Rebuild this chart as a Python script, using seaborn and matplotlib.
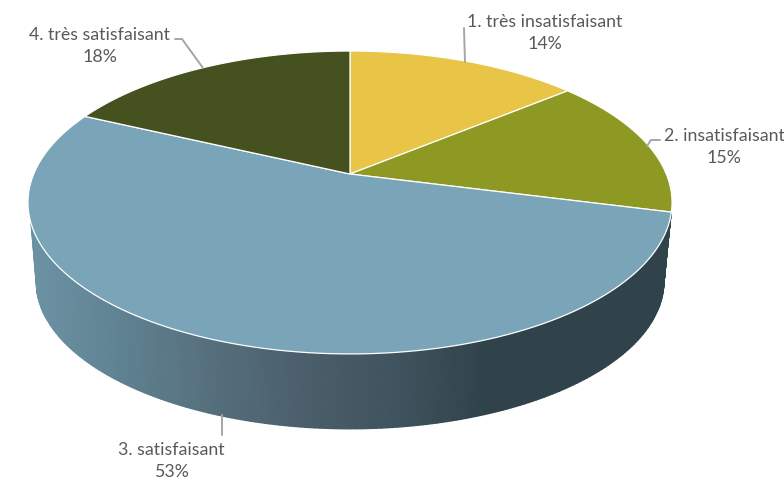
import numpy as np
import matplotlib
matplotlib.use("Agg")
import matplotlib.pyplot as plt
import seaborn as sns

categories = ["1. très insatisfaisant", "2. insatisfaisant", "3. satisfaisant", "4. très satisfaisant"]
shares = [14, 15, 53, 18]
slice_colors = ["#E8C547", "#8E9923", "#7AA4B7", "#465120"]
wall_stops = ["#6C93A5", "#5F8290", "#566F7D", "#4B5E6B", "#3F545E", "#30434B", "#30434B", "#30434B"]

# where the labels sit and how their leader lines run, in pixels
label_xy = [(545, 33), (724, 147), (171, 461), (100, 46)]
leaders = [
    [(465, 62), (464, 28)],
    [(647, 146), (651, 140), (660, 140)],
    [(222, 415), (222, 435)],
    [(203, 68), (182, 39), (175, 39)],
]

# perspective of the pie disc, fitted on the picture
APEX = (350, 174)
A, B, P = 316.3, 146.1, 0.188
BOTTOM_SCALE, BOTTOM_Y = 0.975, 253.5


def disc(theta, scale=1.0, cy=APEX[1]):
    """Angle clockwise from the top -> pixel position on the tilted disc."""
    u, v = np.sin(theta), np.cos(theta)
    den = 1 + P * v
    return APEX[0] + scale * A * u / den, cy - scale * B * v / den


sns.set_theme(style="white")
plt.rcParams["font.family"] = ["Lato", "DejaVu Sans"]

fig = plt.figure(figsize=(7.84, 4.79), dpi=100)
ax = fig.add_axes([0, 0, 1, 1])
ax.set_xlim(0, 784)
ax.set_ylim(479, 0)
ax.axis("off")

# side wall, shaded from left to right
theta_top = np.radians(np.linspace(251.6, 104.4, 200))
theta_low = np.pi + (theta_top - np.pi) * 1.05
xt, yt = disc(theta_top)
xb, yb = disc(theta_low, BOTTOM_SCALE, BOTTOM_Y)
X = np.vstack([xt, xb])
Y = np.vstack([yt, yb])
shade = sns.blend_palette(wall_stops, as_cmap=True)
ax.pcolormesh(X, Y, X, cmap=shade, shading="gouraud", vmin=30, vmax=672, zorder=1)

# top face
edges = np.radians(np.concatenate([[0], np.cumsum(shares)]) * 3.6)
for i, color in enumerate(slice_colors):
    th = np.linspace(edges[i], edges[i + 1], 120)
    x, y = disc(th)
    ax.fill(np.r_[APEX[0], x], np.r_[APEX[1], y], facecolor=color,
            edgecolor="#FFFFFF", linewidth=0.9, joinstyle="round", zorder=2)

for path in leaders:
    px, py = zip(*path)
    ax.plot(px, py, color="#A6A6A6", linewidth=1.4, zorder=3)

for cat, val, (lx, ly) in zip(categories, shares, label_xy):
    ax.text(lx, ly, f"{cat}\n{val}%", ha="center", va="center", fontsize=12.8,
            color="#595959", linespacing=1.48, zorder=4)

fig.savefig("out.png", dpi=100)
